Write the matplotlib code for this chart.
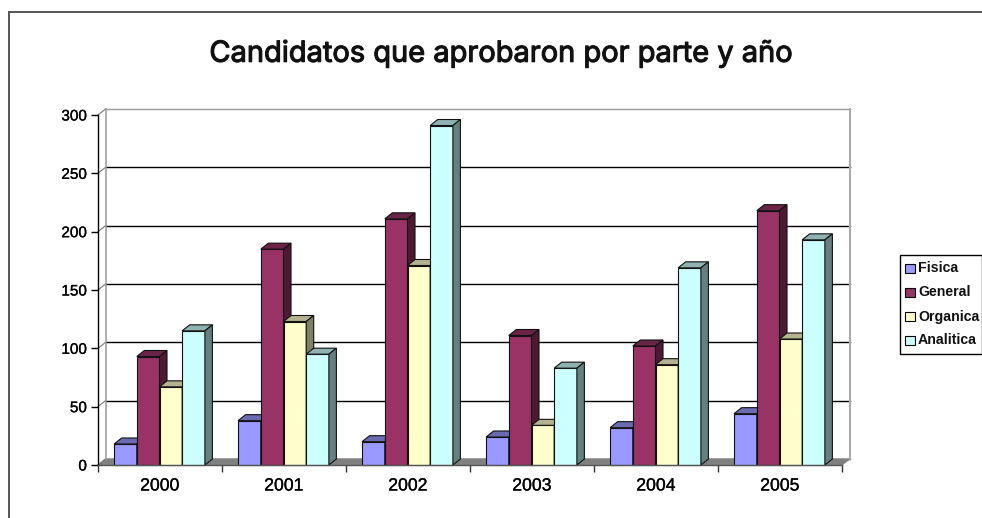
import matplotlib
matplotlib.use("Agg")
import matplotlib.pyplot as plt
import matplotlib.patheffects as pe
import numpy as np
from matplotlib.patches import Polygon, Rectangle

W, H = 982, 518

years = ["2000", "2001", "2002", "2003", "2004", "2005"]
series = ["Fisica", "General", "Organica", "Analitica"]
fisica = [18, 38, 20, 24, 32, 44]
general = [93, 185, 211, 111, 102, 218]
organica = [67, 123, 171, 34, 86, 108]
analitica = [115, 95, 291, 83, 169, 193]
yticks = [0, 50, 100, 150, 200, 250, 300]

colors = ["#9999ff", "#993366", "#ffffcc", "#ccffff"]
tops = ["#6b6bb3", "#6b2447", "#b3b38f", "#8fb3b3"]
sides = ["#4d4d80", "#4d1a33", "#808066", "#668080"]

plt.rcParams["font.family"] = ["Liberation Sans", "DejaVu Sans"]
# the source is a blurry screenshot, text looks slightly heavier than regular
thick = [pe.withStroke(linewidth=0.2, foreground="black")]

fig = plt.figure(figsize=(W / 100, H / 100), dpi=100)
# front plane of the fake 3d box
x0, x1, y0, y1 = 98, 842, 465, 115
ax = fig.add_axes([x0 / W, 1 - y0 / H, (x1 - x0) / W, (y0 - y1) / H])
ax.set_xlim(0, 6)
ax.set_ylim(0, 300)
ax.patch.set_visible(False)

# depth of the box, in data units (about 7.5 px right, 6 px up)
dx = 7.5 * 6 / (x1 - x0)
dy = 6.0 * 300 / (y0 - y1)
bar_w = 0.183
margin = 0.13

# floor and walls
ax.add_patch(Polygon([(0, 0), (dx, dy), (6 + dx, dy), (6, 0)], closed=True,
                     facecolor="#808080", edgecolor="#808080", lw=0.8,
                     clip_on=False, zorder=1))
for t in yticks:
    ax.plot([dx, 6 + dx], [t + dy, t + dy], color="#999999" if t == 300 else "black",
            lw=1.0, clip_on=False, zorder=1.5 if t else 0.5)
    ax.plot([0, dx], [t, t + dy], color="#777777", lw=0.8, clip_on=False, zorder=1.5)
ax.plot([dx, dx], [dy, 300 + dy], color="#999999", lw=1.1, clip_on=False, zorder=1.5)
ax.plot([6 + dx, 6 + dx], [dy, 300 + dy], color="#aaaaaa", lw=1.5, clip_on=False, zorder=1.5)

all_values = [fisica, general, organica, analitica]
z = 2
for g in range(len(years)):
    for s, vals in enumerate(all_values):
        v = vals[g]
        left = g + margin + s * bar_w
        right = left + bar_w
        ax.bar(left, v, bar_w, align="edge", color=colors[s], edgecolor="#111111",
               linewidth=0.8, zorder=z, clip_on=False)
        ax.add_patch(Polygon([(left, v), (left + dx, v + dy), (right + dx, v + dy), (right, v)],
                             closed=True, facecolor=tops[s], edgecolor="#111111",
                             lw=0.8, clip_on=False, zorder=z))
        ax.add_patch(Polygon([(right, 0), (right + dx, dy), (right + dx, v + dy), (right, v)],
                             closed=True, facecolor=sides[s], edgecolor="#111111",
                             lw=0.8, clip_on=False, zorder=z))
        z += 1

for side in ["top", "right"]:
    ax.spines[side].set_visible(False)
for side in ["left", "bottom"]:
    ax.spines[side].set_color("black")
    ax.spines[side].set_linewidth(1.0)
    ax.spines[side].set_zorder(50)
ax.spines["bottom"].set_color("#555555")

ax.set_yticks(yticks)
ax.set_xticks(np.arange(7))
ax.set_xticklabels([])
ax.set_xticks(np.arange(6) + 0.5, labels=years, minor=True)
ax.tick_params(axis="x", which="major", length=5, width=1, color="#333333")
ax.tick_params(axis="x", which="minor", length=0, pad=9, labelsize=12.7)
ax.tick_params(axis="y", length=5, width=1, pad=3, labelsize=11)
for lab in ax.get_yticklabels() + ax.get_xticklabels(minor=True):
    lab.set_path_effects(thick)

# outer chart frame: only left and top edges show in the crop
frame = dict(color="#555555", lw=1.4)
fig.add_artist(plt.Line2D([9 / W, 9 / W], [0, 1 - 12 / H], **frame))
fig.add_artist(plt.Line2D([9 / W, 1], [1 - 12 / H, 1 - 12 / H], **frame))

# wider face than Arial, the screenshot's hinting spreads the letters
title = fig.text(501 / W, 1 - 54 / H, "Candidatos que aprobaron por parte y año",
                 ha="center", va="center", fontsize=20.9, color="#111111",
                 family=["Inter", "DejaVu Sans"])
title.set_path_effects([pe.withStroke(linewidth=0.8, foreground="#111111")])

# legend
fig.add_artist(Rectangle((899.5 / W, 1 - 353.5 / H), 82 / W, 98.5 / H, transform=fig.transFigure,
                         facecolor="white", edgecolor="black", lw=1.0))
for i, name in enumerate(series):
    yc = 268.5 + i * 24
    fig.add_artist(Rectangle((905 / W, 1 - (yc + 4.5) / H), 10 / W, 9 / H, transform=fig.transFigure,
                             facecolor=colors[i], edgecolor="black", lw=0.8))
    fig.text(918 / W, 1 - yc / H, name, ha="left", va="center", fontsize=10.2,
             fontweight="bold", color="#111111")

fig.savefig("out.png", dpi=100)
